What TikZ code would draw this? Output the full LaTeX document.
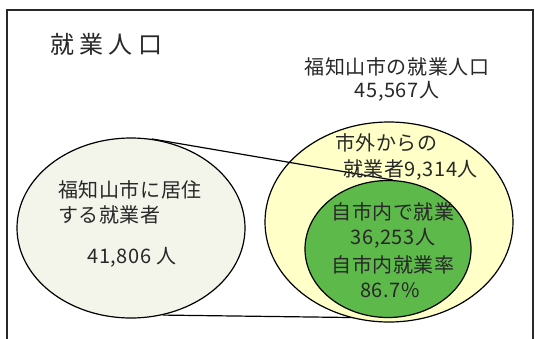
\documentclass[tikz,border=0pt]{standalone}
\usepackage{fontspec}
\setmainfont{Noto Sans CJK JP}
\newfontfamily\jpt[LetterSpace=22]{Noto Sans CJK JP}
\newfontfamily\jp[LetterSpace=3]{Noto Sans CJK JP}
\usetikzlibrary{shapes.geometric}
\pgfdeclarelayer{background}
\pgfsetlayers{background,main}
\definecolor{leftfill}{RGB}{243,244,234}
\definecolor{yel}{RGB}{255,255,200}
\definecolor{grn}{RGB}{93,185,74}
\definecolor{ink}{RGB}{40,40,40}
\begin{document}
\begin{tikzpicture}[x=1pt,y=-1pt,
  txt/.style={font=\fontsize{20}{22}\jp, text=ink, inner sep=0},
  oval/.style={draw=black, ellipse, inner sep=0, line width=1.2pt},
  link/.style={draw=black, line width=1.2pt}]
\useasboundingbox (0,0) rectangle (535,338);
\draw[line width=1.2pt, draw=ink] (7,10) rectangle (533,345);
% ellipses
\node[oval, fill=leftfill, minimum width=228pt, minimum height=180pt] (L) at (131,228) {};
\node[oval, fill=yel, minimum width=248pt, minimum height=200pt] (Y) at (389,222) {};
\node[oval, fill=grn, minimum width=166pt, minimum height=137pt] (G) at (388,249) {};
% connectors
\begin{pgfonlayer}{background}
\draw[link] (L.-70) -- (G.-95);
\end{pgfonlayer}
\draw[link] (L.77) -- (G.86);
% texts
\node[font=\fontsize{24}{26}\jpt, text=ink, inner sep=0, anchor=west] (title) at (50,44) {就業人口};
\node[txt] (t1) at (397,67) {福知山市の就業人口};
\node[txt] (t2) at (397,91) {45,567人};
\node[txt, anchor=west] (y1) at (335,143) {市外からの};
\node[txt, anchor=west] (y2) at (343,170) {就業者9,314人};
\node[txt] (g1) at (393,212) {自市内で就業};
\node[txt] (g2) at (393,238) {36,253人};
\node[txt] (g3) at (393,265) {自市内就業率};
\node[txt] (g4) at (390,290) {86.7\%};
\node[txt, anchor=west] (l1) at (58,190) {福知山市に居住};
\node[txt, anchor=west] (l2) at (58,215) {する就業者};
\node[txt] (l3) at (132,257) {41,806 人};
\end{tikzpicture}
\end{document}
